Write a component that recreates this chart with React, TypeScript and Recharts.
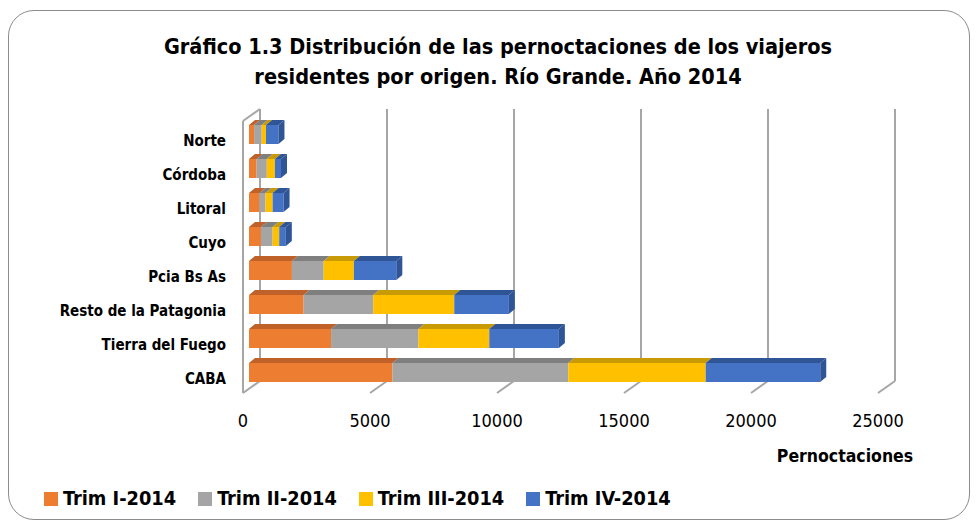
import { Bar, BarChart, CartesianGrid, Legend, XAxis, YAxis } from 'recharts'

const categories = [
  'Norte',
  'Córdoba',
  'Litoral',
  'Cuyo',
  'Pcia Bs As',
  'Resto de la Patagonia',
  'Tierra del Fuego',
  'CABA',
]
const trim1 = [200, 300, 410, 470, 1690, 2150, 3230, 5650]
const trim2 = [300, 400, 240, 460, 1250, 2740, 3440, 6920]
const trim3 = [170, 320, 280, 260, 1190, 3190, 2790, 5410]
const trim4 = [490, 240, 430, 260, 1670, 2150, 2740, 4510]
const xTicks = [0, 5000, 10000, 15000, 20000, 25000]

const series = [
  { key: 't1', name: 'Trim I-2014', values: trim1, color: '#ED7D31', dark: '#C0612A' },
  { key: 't2', name: 'Trim II-2014', values: trim2, color: '#A5A5A5', dark: '#7F7F7F' },
  { key: 't3', name: 'Trim III-2014', values: trim3, color: '#FFC000', dark: '#C89A06' },
  { key: 't4', name: 'Trim IV-2014', values: trim4, color: '#4472C4', dark: '#2F5597' },
]

const data = categories.map((name, i) => {
  const row: Record<string, string | number> = { name }
  series.forEach((s) => (row[s.key] = s.values[i]))
  return row
})

const FONT = '"DejaVu Sans Condensed", "Liberation Sans", sans-serif'
const GRID = '#A6A6A6'
// depth of the 3D box: back wall and front floor edge, relative to the bar plane
const BACK = { dx: 11, dy: -8 }
const FRONT = { dx: -6, dy: 4 }
// bar depth
const BD = { dx: 6, dy: 5 }

function make3DBar(dark: string, withSide: boolean) {
  return (props: any) => {
    const { x, y, width, height, fill } = props
    if (!width || width <= 0) return <g />
    return (
      <g>
        <polygon
          points={`${x},${y} ${x + BD.dx},${y - BD.dy} ${x + width + BD.dx},${y - BD.dy} ${x + width},${y}`}
          fill={dark}
        />
        <rect x={x} y={y} width={width} height={height} fill={fill} />
        {withSide && (
          <polygon
            points={`${x + width},${y} ${x + width + BD.dx},${y - BD.dy} ${x + width + BD.dx},${y + height - BD.dy} ${x + width},${y + height}`}
            fill={dark}
          />
        )}
      </g>
    )
  }
}

function GridLine(props: any) {
  const { x1, y1, y2, index } = props
  const bx = x1 + BACK.dx
  const fx = x1 + FRONT.dx
  return (
    <g key={`g-${index}`}>
      <line x1={bx} y1={y1 + BACK.dy} x2={bx} y2={y2 + BACK.dy} stroke={GRID} strokeWidth={2} />
      <line x1={bx} y1={y2 + BACK.dy} x2={fx} y2={y2 + FRONT.dy} stroke={GRID} strokeWidth={2} />
      {x1 < 252 && (
        <>
          <line x1={bx} y1={y1 + BACK.dy} x2={fx} y2={y1 + FRONT.dy} stroke={GRID} strokeWidth={2} />
          <line x1={fx} y1={y1 + FRONT.dy} x2={fx} y2={y2 + FRONT.dy} stroke={GRID} strokeWidth={2} />
        </>
      )}
    </g>
  )
}

function XTick(props: any) {
  const { x, y, payload } = props
  return (
    <text x={x + FRONT.dx} y={y + 38} textAnchor="middle" fontFamily={FONT} fontSize={18} fill="#000">
      {payload.value}
    </text>
  )
}

function YTick(props: any) {
  const { y, payload } = props
  return (
    <text x={226} y={y + 12} textAnchor="end" fontFamily={FONT} fontSize={15} fontWeight="bold" fill="#000">
      {payload.value}
    </text>
  )
}

function LegendContent() {
  return (
    <div style={{ display: 'flex', alignItems: 'center', paddingLeft: 44, fontFamily: FONT }}>
      {series.map((s) => (
        <div key={s.key} style={{ display: 'flex', alignItems: 'center', marginRight: 22 }}>
          <span style={{ width: 14, height: 14, background: s.color, marginRight: 5, display: 'inline-block' }} />
          <span style={{ fontSize: 19.8, fontWeight: 'bold', color: '#000' }}>{s.name}</span>
        </div>
      ))}
    </div>
  )
}

export default function App() {
  return (
    <div style={{ position: 'absolute', left: 0, top: 0, width: 977, height: 528, background: '#fff' }}>
      <div
        style={{
          position: 'absolute',
          left: 8,
          top: 10,
          width: 960,
          height: 508,
          border: '1px solid #8C8C8C',
          borderRadius: 26,
        }}
      />
      <div
        style={{
          position: 'absolute',
          left: 0,
          top: 32,
          width: 996,
          textAlign: 'center',
          fontFamily: FONT,
          fontWeight: 'bold',
          fontSize: 21.5,
          lineHeight: '30px',
          color: '#000',
        }}
      >
        Gráfico 1.3 Distribución de las pernoctaciones de los viajeros
        <br />
        residentes por origen. Río Grande. Año 2014
      </div>
      <div
        style={{
          position: 'absolute',
          left: 745,
          top: 446,
          width: 200,
          textAlign: 'center',
          fontFamily: FONT,
          fontWeight: 'bold',
          fontSize: 17.5,
          color: '#000',
        }}
      >
        Pernoctaciones
      </div>
      <BarChart
        width={977}
        height={528}
        data={data}
        layout="vertical"
        barSize={19}
        margin={{ top: 117, right: 93, bottom: 109, left: 49 }}
        style={{ position: 'absolute', left: 0, top: 0 }}
      >
        <CartesianGrid horizontal={false} vertical={GridLine} />
        <XAxis
          type="number"
          domain={[0, 25000]}
          ticks={xTicks}
          height={30}
          axisLine={false}
          tickLine={false}
          tickSize={0}
          tickMargin={0}
          tick={XTick}
          interval={0}
        />
        <YAxis
          type="category"
          dataKey="name"
          width={200}
          axisLine={false}
          tickLine={false}
          tick={YTick}
          interval={0}
        />
        <Legend
          layout="vertical"
          align="center"
          verticalAlign="middle"
          content={LegendContent}
          wrapperStyle={{ top: 487, left: 0, width: 977 }}
        />
        {series.map((s, i) => (
          <Bar
            key={s.key}
            dataKey={s.key}
            name={s.name}
            stackId="a"
            fill={s.color}
            shape={make3DBar(s.dark, i === series.length - 1)}
            isAnimationActive={false}
          />
        ))}
      </BarChart>
    </div>
  )
}
